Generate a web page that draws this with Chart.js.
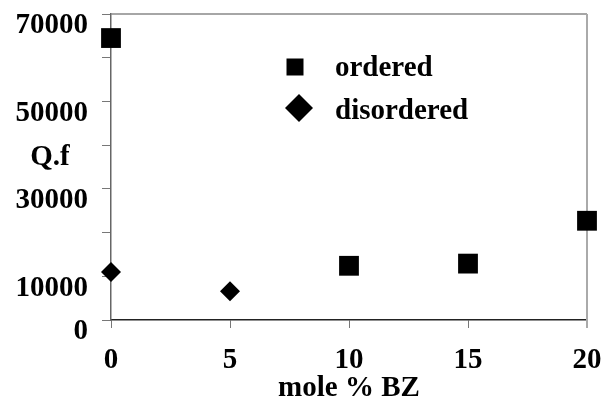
<!DOCTYPE html>
<html>
<head>
<meta charset="utf-8">
<script src="https://cdn.jsdelivr.net/npm/chart.js@4/dist/chart.umd.min.js"></script>
<style>
  html, body { margin: 0; padding: 0; background: #fff; }
  #wrap { width: 612px; height: 397px; }
</style>
</head>
<body>
<div id="wrap"><canvas id="c" width="612" height="397"></canvas></div>
<script>
// ---- data ----
const orderedX = [0, 10, 15, 20];
const orderedY = [64500, 12400, 12900, 22700];
const disorderedX = [0, 5];
const disorderedY = [11000, 6600];
const seriesLabels = ['ordered', 'disordered'];
const xTicks = [0, 5, 10, 15, 20];
const yTickLabels = [0, 10000, 30000, 50000, 70000];
const yTitle = 'Q.f';
const yTitleAt = 40000;
const xTitle = 'mole % BZ';

const FONT = "'Liberation Serif', 'Times New Roman', serif";

const boxPlugin = {
  id: 'boxAndLabels',
  beforeDatasetsDraw(chart) {
    const ctx = chart.ctx;
    const a = chart.chartArea;
    ctx.save();
    ctx.strokeStyle = '#888';
    ctx.lineWidth = 1.5;
    ctx.beginPath();
    ctx.moveTo(a.left, a.top);
    ctx.lineTo(a.right, a.top);
    ctx.stroke();
    ctx.strokeStyle = '#aaa';
    ctx.lineWidth = 2;
    ctx.beginPath();
    ctx.moveTo(a.right, a.top);
    ctx.lineTo(a.right, a.bottom + 8);
    ctx.stroke();
    ctx.restore();
  },
  afterDraw(chart) {
    const ctx = chart.ctx;
    ctx.save();
    const ys = chart.scales.y;
    ctx.fillStyle = '#000';
    ctx.font = 'bold 29px ' + FONT;
    ctx.textAlign = 'center';
    ctx.textBaseline = 'middle';
    ctx.fillText(yTitle, 50, ys.getPixelForValue(yTitleAt) + 12);
    const items = [
      { label: seriesLabels[0], style: 'rect', mx: 295, my: 67, size: 17, ty: 69 },
      { label: seriesLabels[1], style: 'diamond', mx: 299, my: 108, size: 28, ty: 112 }
    ];
    items.forEach(it => {
      ctx.fillStyle = '#000';
      ctx.beginPath();
      if (it.style === 'rect') {
        ctx.rect(it.mx - it.size / 2, it.my - it.size / 2, it.size, it.size);
      } else {
        const h = it.size / 2;
        ctx.moveTo(it.mx, it.my - h);
        ctx.lineTo(it.mx + h, it.my);
        ctx.lineTo(it.mx, it.my + h);
        ctx.lineTo(it.mx - h, it.my);
        ctx.closePath();
      }
      ctx.fill();
      ctx.textAlign = 'left';
      ctx.textBaseline = 'middle';
      ctx.fillText(it.label, 335, it.ty);
    });
    ctx.restore();
  }
};

new Chart(document.getElementById('c'), {
  type: 'scatter',
  data: {
    datasets: [
      {
        label: seriesLabels[0],
        data: orderedX.map((x, i) => ({ x, y: orderedY[i] })),
        pointStyle: 'rect',
        pointRadius: 14,
        pointHoverRadius: 14,
        backgroundColor: '#000',
        borderColor: '#000',
        borderWidth: 0,
        clip: false
      },
      {
        label: seriesLabels[1],
        data: disorderedX.map((x, i) => ({ x, y: disorderedY[i] })),
        pointStyle: 'rectRot',
        pointRadius: 10,
        pointHoverRadius: 10,
        backgroundColor: '#000',
        borderColor: '#000',
        borderWidth: 0,
        clip: false
      }
    ]
  },
  options: {
    responsive: false,
    animation: false,
    devicePixelRatio: 1,
    layout: { padding: { left: 0, right: 25, top: 14, bottom: 0 } },
    plugins: { legend: { display: false }, tooltip: { enabled: false } },
    scales: {
      x: {
        type: 'linear',
        min: 0, max: 20,
        afterBuildTicks: s => { s.ticks = xTicks.map(v => ({ value: v })); },
        ticks: {
          font: { family: FONT, size: 29, weight: 'bold' },
          color: '#000',
          padding: 15,
          maxRotation: 0,
          autoSkip: false
        },
        grid: { drawOnChartArea: false, drawTicks: true, tickLength: 8, color: '#777', lineWidth: 1 },
        border: { display: true, color: '#222', width: 1.5 },
        title: {
          display: true,
          text: xTitle,
          font: { family: FONT, size: 29, weight: 'bold', lineHeight: 0.6 },
          color: '#000',
          padding: { top: 0, bottom: 0 }
        },
        afterFit: s => { s.height = 77; s.paddingLeft = 0; s.paddingRight = 0; }
      },
      y: {
        type: 'linear',
        min: 0, max: 70000,
        ticks: {
          stepSize: 10000,
          autoSkip: false,
          font: { family: FONT, size: 29, weight: 'bold' },
          color: '#000',
          padding: 14,
          labelOffset: 12,
          callback: v => (yTickLabels.includes(v) ? String(v) : '')
        },
        grid: { drawOnChartArea: false, drawTicks: true, tickLength: 9, color: '#777', lineWidth: 1 },
        border: { display: true, color: '#666', width: 1.5 },
        afterFit: s => { s.width = 111; s.paddingTop = 0; s.paddingBottom = 0; }
      }
    }
  },
  plugins: [boxPlugin]
});
</script>
</body>
</html>
